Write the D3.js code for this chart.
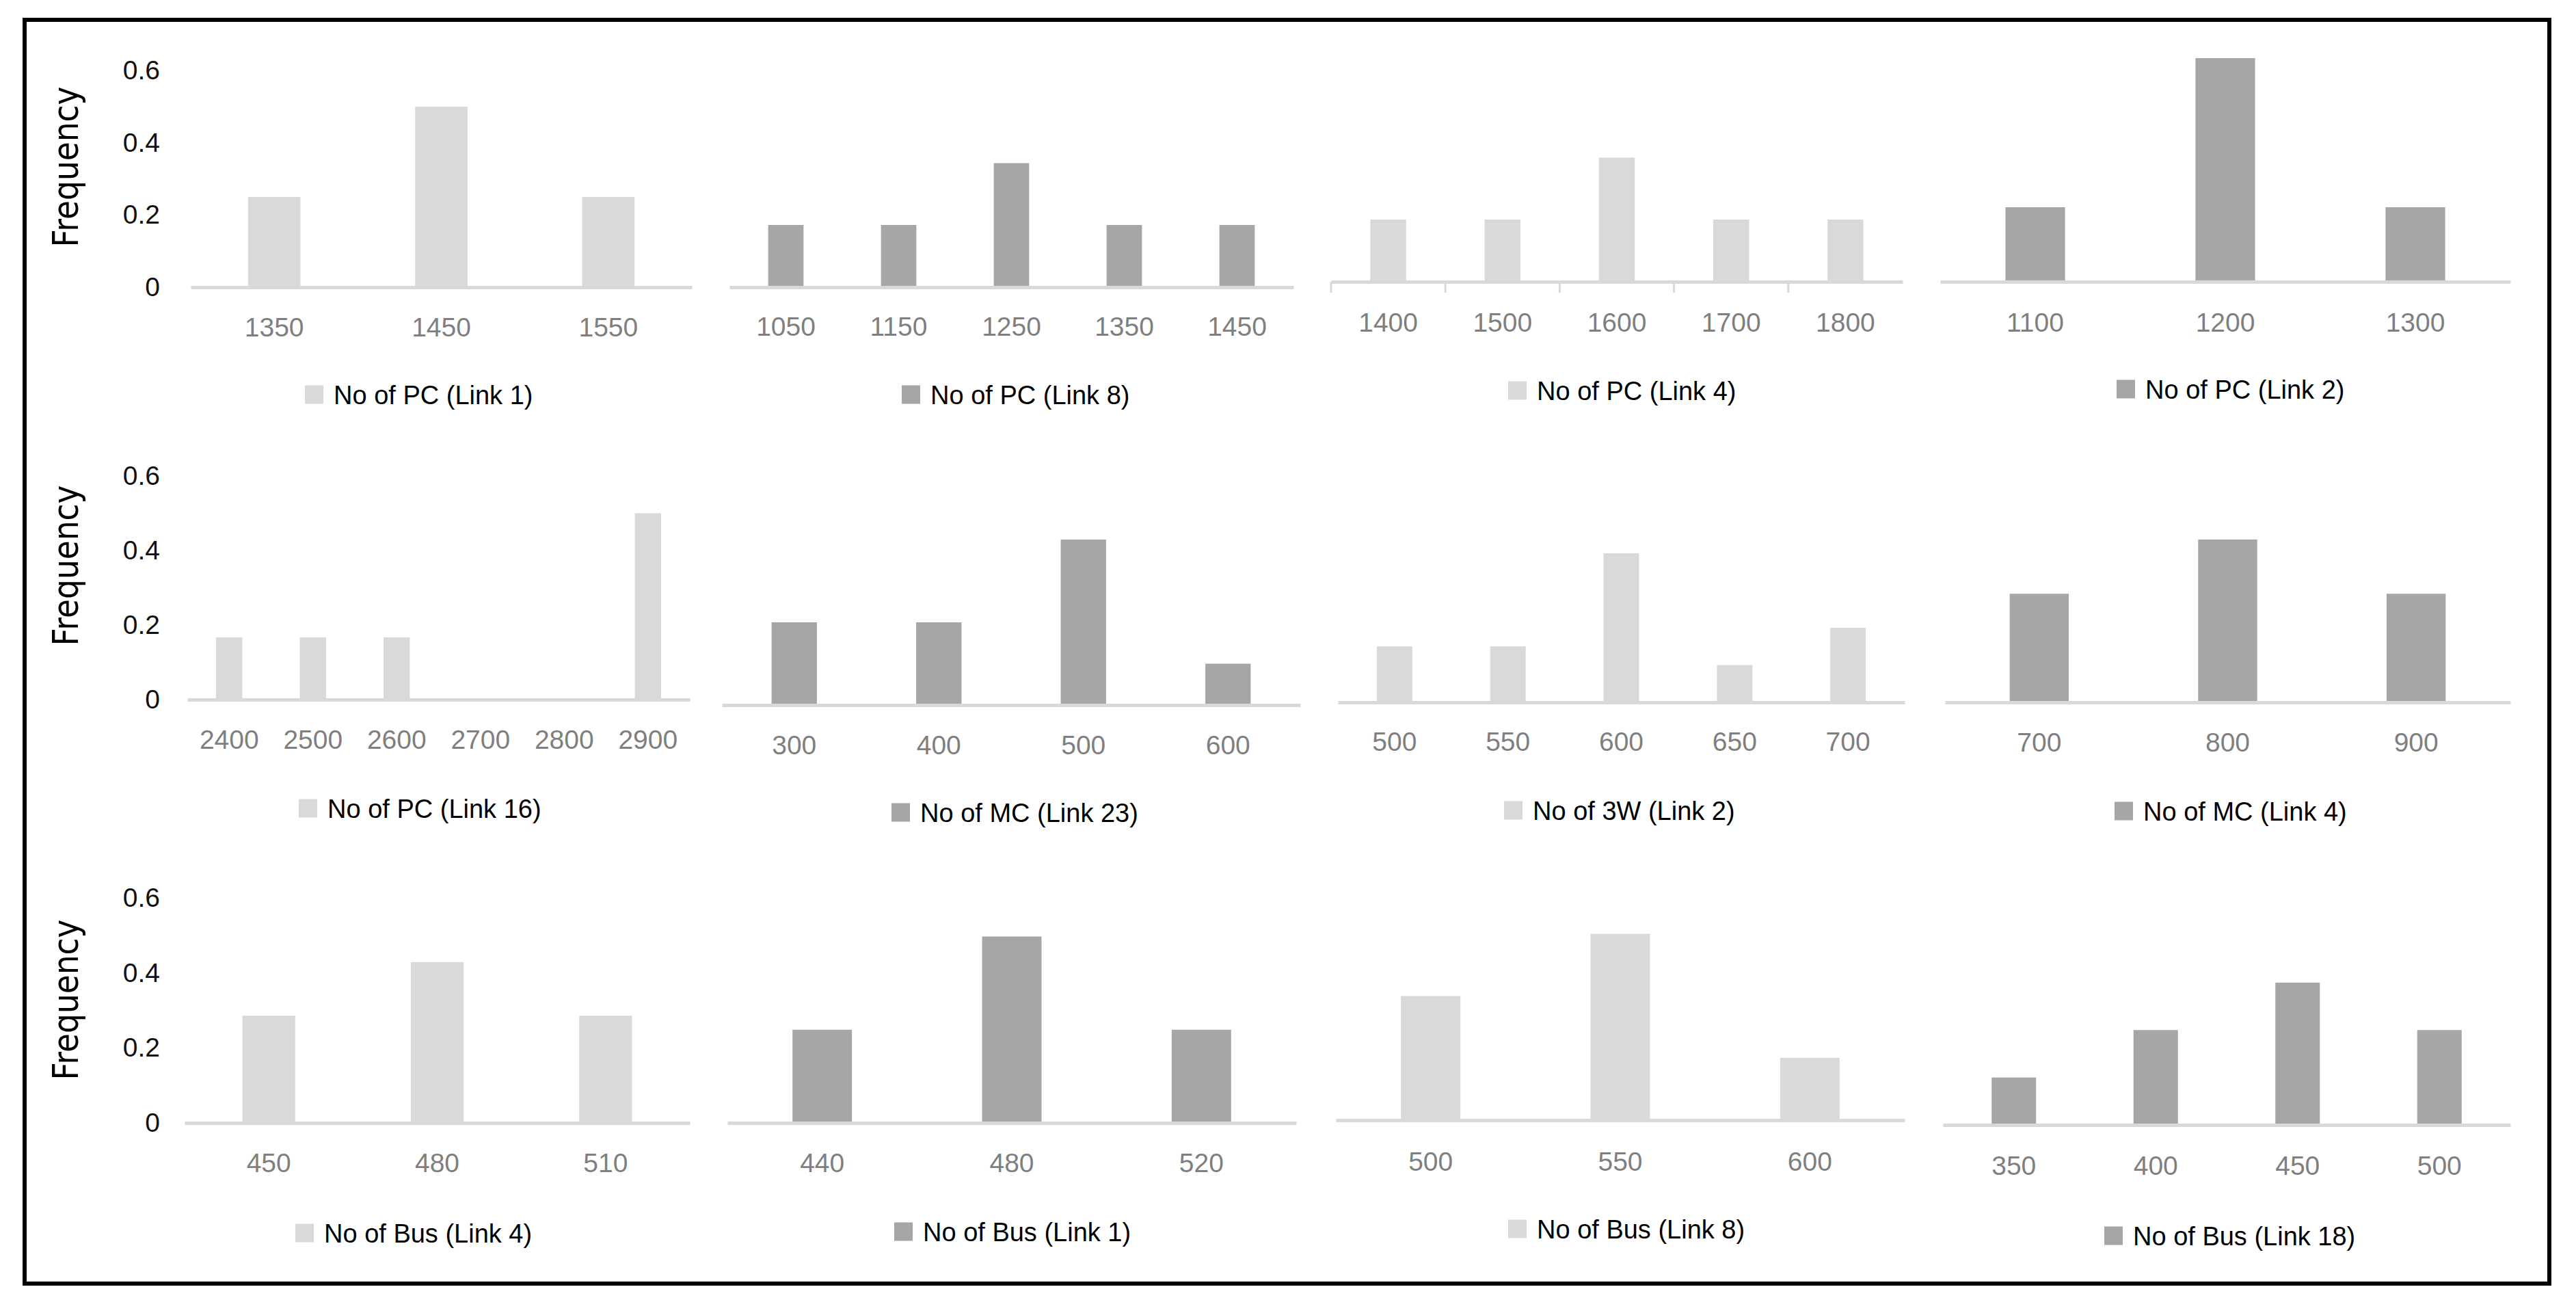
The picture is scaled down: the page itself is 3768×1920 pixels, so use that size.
<!DOCTYPE html>
<meta charset="utf-8">
<html>
<head>
<script src="https://d3js.org/d3.v7.min.js"></script>
<style>
  body { margin: 0; background: #fff; }
</style>
</head>
<body>
<div id="grid"></div>
<script>
// legend titles, one per small chart (row by row)
var titles = [
    "No of PC (Link 1)", "No of PC (Link 8)", "No of PC (Link 4)", "No of PC (Link 2)",
    "No of PC (Link 16)", "No of MC (Link 23)", "No of 3W (Link 2)", "No of MC (Link 4)",
    "No of Bus (Link 4)", "No of Bus (Link 1)", "No of Bus (Link 8)", "No of Bus (Link 18)"
];

// category labels (x axis) for each chart
var cats1 = ["1350", "1450", "1550"];
var cats2 = ["1050", "1150", "1250", "1350", "1450"];
var cats3 = ["1400", "1500", "1600", "1700", "1800"];
var cats4 = ["1100", "1200", "1300"];
var cats5 = ["2400", "2500", "2600", "2700", "2800", "2900"];
var cats6 = ["300", "400", "500", "600"];
var cats7 = ["500", "550", "600", "650", "700"];
var cats8 = ["700", "800", "900"];
var cats9 = ["450", "480", "510"];
var cats10 = ["440", "480", "520"];
var cats11 = ["500", "550", "600"];
var cats12 = ["350", "400", "450", "500"];

// frequencies
var freq1 = [0.25, 0.5, 0.25];
var freq2 = [0.167, 0.167, 0.333, 0.167, 0.167];
var freq3 = [0.167, 0.167, 0.333, 0.167, 0.167];
var freq4 = [0.2, 0.6, 0.2];
var freq5 = [0.167, 0.167, 0.167, 0, 0, 0.5];
var freq6 = [0.222, 0.222, 0.444, 0.111];
var freq7 = [0.15, 0.15, 0.4, 0.1, 0.2];
var freq8 = [0.286, 0.429, 0.286];
var freq9 = [0.286, 0.429, 0.286];
var freq10 = [0.25, 0.5, 0.25];
var freq11 = [0.333, 0.5, 0.167];
var freq12 = [0.125, 0.25, 0.375, 0.25];

var yTicks = [0, 0.2, 0.4, 0.6];

var allCats = [cats1, cats2, cats3, cats4, cats5, cats6, cats7, cats8, cats9, cats10, cats11, cats12];
var allFreq = [freq1, freq2, freq3, freq4, freq5, freq6, freq7, freq8, freq9, freq10, freq11, freq12];

// placement of each chart on the page (pixels)
var layout = [
    { x0: 279,  x1: 1012, base: 420,  unit: 528, tickY: 478,  legX: 446,  legY: 577,  yAxis: true, titleY: 244 },
    { x0: 1067, x1: 1892, base: 420,  unit: 545, tickY: 477,  legX: 1319, legY: 577 },
    { x0: 1947, x1: 2783, base: 412,  unit: 545, tickY: 471,  legX: 2206, legY: 571, ticks: true },
    { x0: 2838, x1: 3672, base: 412,  unit: 545, tickY: 471,  legX: 3096, legY: 569 },
    { x0: 274,  x1: 1009, base: 1023, unit: 545, tickY: 1081, legX: 437,  legY: 1182, yAxis: true, titleY: 827 },
    { x0: 1056, x1: 1902, base: 1031, unit: 545, tickY: 1089, legX: 1304, legY: 1188 },
    { x0: 1957, x1: 2786, base: 1027, unit: 545, tickY: 1084, legX: 2200, legY: 1185 },
    { x0: 2845, x1: 3672, base: 1027, unit: 555, tickY: 1085, legX: 3093, legY: 1186 },
    { x0: 270,  x1: 1009, base: 1642, unit: 548, tickY: 1700, legX: 432,  legY: 1803, yAxis: true, titleY: 1462 },
    { x0: 1064, x1: 1896, base: 1642, unit: 545, tickY: 1700, legX: 1308, legY: 1801 },
    { x0: 1954, x1: 2786, base: 1638, unit: 545, tickY: 1698, legX: 2206, legY: 1797 },
    { x0: 2842, x1: 3672, base: 1645, unit: 555, tickY: 1704, legX: 3078, legY: 1807 }
];

var light = "#d9d9d9", dark = "#a6a6a6";
var gap = 1 - 1 / (1 + 2.19); // Excel default gap width 219%

var width = 3768, height = 1920;

var svg = d3.select("#grid")
    .append("svg")
    .attr("width", width)
    .attr("height", height)
    .attr("viewBox", [0, 0, width, height]);

svg.append("rect")
    .attr("width", width).attr("height", height)
    .attr("fill", "#fff");

// outer frame
svg.append("rect")
    .attr("x", 36).attr("y", 29)
    .attr("width", 3729 - 36).attr("height", 1877 - 29)
    .attr("fill", "none")
    .attr("stroke", "#000")
    .attr("stroke-width", 6);

layout.forEach(function (L, k) {
    var cats = allCats[k];
    var vals = allFreq[k];
    var color = (k % 2 === 0) ? light : dark;

    var x = d3.scaleBand()
        .domain(cats)
        .range([L.x0, L.x1])
        .paddingInner(gap)
        .paddingOuter(gap / 2);

    var y = d3.scaleLinear()
        .domain([0, 0.6])
        .range([L.base, L.base - 0.6 * L.unit]);

    var g = svg.append("g");

    // bars
    g.append("g")
        .attr("fill", color)
        .selectAll("rect")
        .data(vals)
        .join("rect")
        .attr("x", function (d, i) { return x(cats[i]); })
        .attr("y", function (d) { return y(d); })
        .attr("width", x.bandwidth())
        .attr("height", function (d) { return y(0) - y(d); });

    // category axis
    var xAxis = d3.axisBottom(x).tickSize(0).tickSizeOuter(0).tickPadding(0);
    g.append("g")
        .attr("transform", "translate(0," + y(0) + ")")
        .call(xAxis)
        .call(function (a) {
            a.select(".domain")
                .attr("stroke", light)
                .attr("stroke-width", 5);
            a.selectAll(".tick text")
                .attr("y", L.tickY - L.base)
                .attr("dy", "0.36em")
                .attr("fill", "#7f7f7f")
                .style("font-family", "'Liberation Sans', Arial, sans-serif")
                .style("font-size", "39px");
        });

    // small tick marks between categories (only one chart has them)
    if (L.ticks) {
        var half = (x.step() - x.bandwidth()) / 2;
        g.append("g")
            .attr("stroke", light)
            .attr("stroke-width", 3)
            .selectAll("line")
            .data(cats)
            .join("line")
            .attr("x1", function (d) { return x(d) - half; })
            .attr("x2", function (d) { return x(d) - half; })
            .attr("y1", y(0))
            .attr("y2", y(0) + 16);
    }

    // value axis, only on the left column
    if (L.yAxis) {
        g.append("g")
            .attr("transform", "translate(" + L.x0 + ",0)")
            .call(d3.axisLeft(y)
                .tickValues(yTicks)
                .tickSize(0)
                .tickPadding(L.x0 - 234)
                .tickFormat(function (d) { return d === 0 ? "0" : d3.format(".1f")(d); }))
            .call(function (a) {
                a.select(".domain").remove();
                a.selectAll(".tick text")
                    .attr("fill", "#111")
                    .style("font-family", "'Liberation Sans', Arial, sans-serif")
                    .style("font-size", "39px");
            });

        svg.append("text")
            .attr("transform", "translate(114," + L.titleY + ") rotate(-90)")
            .attr("text-anchor", "middle")
            .attr("textLength", 235)
            .attr("lengthAdjust", "spacingAndGlyphs")
            .attr("fill", "#000")
            .style("font-family", "'DejaVu Sans', Verdana, sans-serif")
            .style("font-size", "52px")
            .text("Frequency");
    }

    // legend
    var leg = g.append("g")
        .attr("transform", "translate(" + L.legX + "," + L.legY + ")");
    leg.append("rect")
        .attr("x", 0).attr("y", -13.5)
        .attr("width", 27).attr("height", 27)
        .attr("fill", color);
    leg.append("text")
        .attr("x", 42)
        .attr("dy", "0.36em")
        .attr("fill", "#000")
        .style("font-family", "'Liberation Sans', Arial, sans-serif")
        .style("font-size", "38px")
        .text(titles[k]);
});
</script>
</body>
</html>
